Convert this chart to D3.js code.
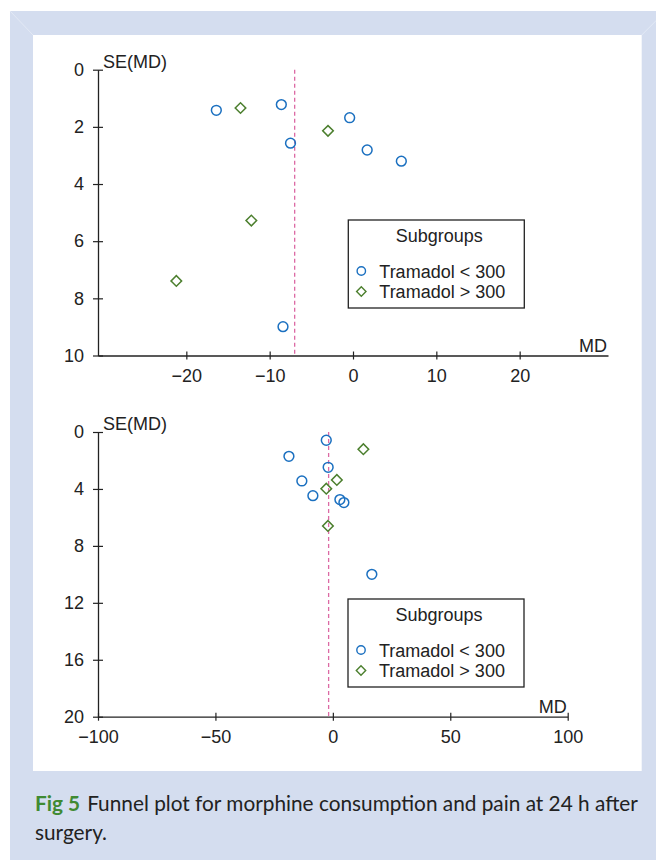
<!DOCTYPE html>
<html>
<head>
<meta charset="utf-8">
<script src="https://cdn.jsdelivr.net/npm/d3@7"></script>
<style>
  body { margin: 0; background: #fff; }
  svg { display: block; }
</style>
</head>
<body>
<svg id="chart" width="656" height="860"></svg>
<script>
// ---- data ----
const groups = ["Tramadol < 300", "Tramadol > 300"];

// morphine consumption panel (top)
const topLowMD  = [-16.4, -8.6, -7.5, -0.4, 1.7, 5.8, -8.4];
const topLowSE  = [1.42, 1.22, 2.57, 1.68, 2.81, 3.2, 8.99];
const topHighMD = [-13.5, -3.0, -12.2, -21.2];
const topHighSE = [1.34, 2.14, 5.28, 7.39];
const topPooled = -7.0;
const topXTicks = [-20, -10, 0, 10, 20];
const topYTicks = [0, 2, 4, 6, 8, 10];

// pain at 24 h panel (bottom)
const botLowMD  = [-2.8, -18.7, -2.0, -13.2, -8.5, 3.0, 4.7, 16.6];
const botLowSE  = [0.58, 1.71, 2.48, 3.44, 4.47, 4.75, 4.96, 10.0];
const botHighMD = [13.0, 1.7, -2.8, -2.1];
const botHighSE = [1.21, 3.37, 3.98, 6.6];
const botPooled = -1.8;
const botXTicks = [-100, -50, 0, 50, 100];
const botYTicks = [0, 4, 8, 12, 16, 20];

const blue = "#1b70c0", green = "#4c7f2e", pink = "#dc6aa4", ink = "#222";
const font = "'Liberation Sans', Arial, sans-serif";

const svg = d3.select("#chart");

// page frame
svg.append("rect").attr("x", 10).attr("y", 11).attr("width", 660).attr("height", 860).attr("fill", "#d4ddef");
svg.append("rect").attr("x", 33).attr("y", 35).attr("width", 608.7).attr("height", 736).attr("fill", "#fff");
[[10, 11, 33, 35], [665.7, 11, 641.7, 35]].forEach(([x1, y1, x2, y2]) =>
  svg.append("line").attr("x1", x1).attr("y1", y1).attr("x2", x2).attr("y2", y2)
    .attr("stroke", "#e3e9f5").attr("stroke-width", 1));

function toPoints(md, se) { return md.map((m, i) => ({ md: m, se: se[i] })); }

function funnel(cfg) {
  const g = svg.append("g");
  const x = d3.scaleLinear().domain(cfg.xDomain).range(cfg.xRange);
  const y = d3.scaleLinear().domain(cfg.yDomain).range(cfg.yRange);

  // y axis (crossing ticks)
  const yAx = g.append("g").attr("transform", `translate(${cfg.xRange[0]},0)`)
    .call(d3.axisLeft(y).tickValues(cfg.yTicks).tickSizeInner(5).tickSizeOuter(0).tickPadding(9));
  yAx.selectAll(".tick line").attr("x1", 5);
  // x axis
  const xAx = g.append("g").attr("transform", `translate(0,${cfg.yRange[1]})`)
    .call(d3.axisBottom(x).tickValues(cfg.xTicks).tickSizeInner(4).tickSizeOuter(0).tickPadding(9.7));
  xAx.selectAll(".tick line").attr("y1", -4);
  [yAx, xAx].forEach(a => {
    a.select(".domain").attr("stroke", ink).attr("stroke-width", 1.3);
    a.selectAll(".tick line").attr("stroke", ink).attr("stroke-width", 1.2);
    a.selectAll("text").attr("fill", ink).style("font-family", font).style("font-size", "18px");
  });

  g.append("text").attr("x", cfg.xRange[0] + 5).attr("y", y(cfg.yDomain[0]) - 2)
    .style("font-family", font).style("font-size", "18px").attr("fill", ink).text("SE(MD)");
  g.append("text").attr("x", cfg.xRange[1] - 1).attr("y", cfg.yRange[1] - 4).attr("text-anchor", "end")
    .style("font-family", font).style("font-size", "18px").attr("fill", ink).text("MD");

  // pooled estimate
  g.append("line").attr("x1", x(cfg.pooled)).attr("x2", x(cfg.pooled))
    .attr("y1", y(cfg.yDomain[0])).attr("y2", y(cfg.yDomain[1]))
    .attr("stroke", pink).attr("stroke-width", 1.3).attr("stroke-dasharray", "4,3");

  // studies
  g.selectAll(".low").data(cfg.low).enter().append("circle")
    .attr("cx", d => x(d.md)).attr("cy", d => y(d.se)).attr("r", 4.9)
    .attr("fill", "none").attr("stroke", blue).attr("stroke-width", 1.5);
  const diamond = d3.symbol().type(d3.symbolSquare).size(56);
  g.selectAll(".high").data(cfg.high).enter().append("path")
    .attr("d", diamond)
    .attr("transform", d => `translate(${x(d.md)},${y(d.se)}) rotate(45)`)
    .attr("fill", "none").attr("stroke", green).attr("stroke-width", 1.5);

  // legend
  const L = cfg.legend;
  const lg = g.append("g").attr("transform", `translate(${L.x},${L.y})`);
  lg.append("rect").attr("width", 176).attr("height", 88).attr("fill", "#fff")
    .attr("stroke", ink).attr("stroke-width", 1.3);
  lg.append("text").attr("x", 91).attr("y", 22).attr("text-anchor", "middle")
    .style("font-family", font).style("font-size", "18px").attr("fill", ink).text("Subgroups");
  const legSym = d3.symbol().type(d3.symbolSquare).size(44);
  groups.forEach((name, i) => {
    const ry = 51 + i * 20.5;
    if (i === 0) {
      lg.append("circle").attr("cx", 13).attr("cy", ry).attr("r", 4.2)
        .attr("fill", "none").attr("stroke", blue).attr("stroke-width", 1.4);
    } else {
      lg.append("path").attr("d", legSym).attr("transform", `translate(13,${ry}) rotate(45)`)
        .attr("fill", "none").attr("stroke", green).attr("stroke-width", 1.4);
    }
    lg.append("text").attr("x", 31).attr("y", ry + 6.5)
      .style("font-family", font).style("font-size", "18px").attr("fill", ink).text(name);
  });
}

funnel({
  xDomain: [-30.6, 30.6], xRange: [98, 608],
  yDomain: [0, 10], yRange: [69.7, 355.5],
  xTicks: topXTicks, yTicks: topYTicks, pooled: topPooled,
  low: toPoints(topLowMD, topLowSE), high: toPoints(topHighMD, topHighSE),
  legend: { x: 348.3, y: 220 }
});

funnel({
  xDomain: [-100, 100], xRange: [98, 567.7],
  yDomain: [0, 20], yRange: [432, 716.7],
  xTicks: botXTicks, yTicks: botYTicks, pooled: botPooled,
  low: toPoints(botLowMD, botLowSE), high: toPoints(botHighMD, botHighSE),
  legend: { x: 348, y: 599 }
});

// caption
const capFont = "Lato, 'Open Sans', sans-serif";
const cap = svg.append("text").attr("x", 35).attr("y", 811)
  .style("font-family", capFont).style("font-size", "20.8px").attr("fill", "#222");
cap.append("tspan").attr("fill", "#3f8a32").style("font-weight", "bold").text("Fig 5");
cap.append("tspan").attr("dx", 7).text("Funnel plot for morphine consumption and pain at 24 h after");
svg.append("text").attr("x", 35).attr("y", 840)
  .style("font-family", capFont).style("font-size", "20.8px").attr("fill", "#222")
  .text("surgery.");
</script>
</body>
</html>
